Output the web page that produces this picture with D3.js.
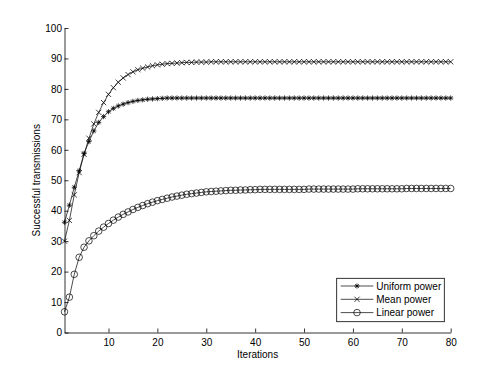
<!DOCTYPE html>
<html>
<head>
<meta charset="utf-8">
<script src="https://cdnjs.cloudflare.com/ajax/libs/d3/7.8.5/d3.min.js"></script>
<style>
  body { margin: 0; background: #fff; }
  svg text { font-family: "Liberation Sans", Arial, Helvetica, sans-serif; fill: #000; }
</style>
</head>
<body>
<div id="chart"></div>
<script>
// iterations 1..80
const iterations = d3.range(1, 81);

const uniformPower = [36.2, 41.8, 47.7, 53.1, 58.8, 62.7, 66.2, 69.0, 70.9, 72.5,
    73.6, 74.4, 75.0, 75.5, 75.9, 76.2, 76.4, 76.6, 76.7, 76.8,
    76.9, 77.0, 77.0, 77.0, 77.0, 77.0, 77.0, 77.0, 77.0, 77.0,
    77.0, 77.0, 77.0, 77.0, 77.0, 77.0, 77.0, 77.0, 77.0, 77.0,
    77.0, 77.0, 77.0, 77.0, 77.0, 77.0, 77.0, 77.0, 77.0, 77.0,
    77.0, 77.0, 77.0, 77.0, 77.0, 77.0, 77.0, 77.0, 77.0, 77.0,
    77.0, 77.0, 77.0, 77.0, 77.0, 77.0, 77.0, 77.0, 77.0, 77.0,
    77.0, 77.0, 77.0, 77.0, 77.0, 77.0, 77.0, 77.0, 77.0, 77.0];

const meanPower = [30.0, 36.8, 45.2, 52.5, 58.5, 63.8, 68.5, 72.3, 75.5, 78.2,
    80.4, 82.2, 83.6, 84.7, 85.6, 86.3, 86.8, 87.2, 87.6, 87.9,
    88.1, 88.3, 88.4, 88.5, 88.6, 88.7, 88.7, 88.8, 88.8, 88.8,
    88.9, 88.9, 88.9, 88.9, 88.9, 88.9, 88.9, 88.9, 88.9, 88.9,
    88.9, 88.9, 88.9, 88.9, 88.9, 88.9, 88.9, 88.9, 88.9, 88.9,
    88.9, 88.9, 88.9, 88.9, 88.9, 88.9, 88.9, 88.9, 88.9, 88.9,
    88.9, 88.9, 88.9, 88.9, 88.9, 88.9, 88.9, 88.9, 88.9, 88.9,
    88.9, 88.9, 88.9, 88.9, 88.9, 88.9, 88.9, 88.9, 88.9, 88.9];

const linearPower = [6.8, 11.6, 19.1, 24.7, 28.0, 30.1, 31.8, 33.3, 34.6, 35.8,
    36.9, 37.9, 38.8, 39.6, 40.4, 41.1, 41.7, 42.3, 42.8, 43.3,
    43.7, 44.1, 44.5, 44.8, 45.1, 45.4, 45.6, 45.8, 46.0, 46.2,
    46.3, 46.4, 46.5, 46.6, 46.7, 46.7, 46.8, 46.8, 46.9, 46.9,
    47.0, 47.0, 47.0, 47.0, 47.0, 47.0, 47.0, 47.0, 47.0, 47.0,
    47.1, 47.1, 47.1, 47.1, 47.1, 47.1, 47.1, 47.1, 47.1, 47.1,
    47.2, 47.2, 47.2, 47.2, 47.2, 47.2, 47.2, 47.2, 47.2, 47.2,
    47.3, 47.3, 47.3, 47.3, 47.3, 47.3, 47.3, 47.3, 47.3, 47.3];

const xTicks = [10, 20, 30, 40, 50, 60, 70, 80];
const yTicks = [0, 10, 20, 30, 40, 50, 60, 70, 80, 90, 100];

const seriesNames = ["Uniform power", "Mean power", "Linear power"];
const seriesValues = [uniformPower, meanPower, linearPower];
const seriesMarkers = ["star", "cross", "circle"];

// ----- layout -----
const width = 498, height = 374;
const margin = { top: 28, right: 47.3, bottom: 41.5, left: 64.5 };
const innerW = width - margin.left - margin.right;
const innerH = height - margin.top - margin.bottom;

const svg = d3.select("#chart").append("svg")
    .attr("width", width)
    .attr("height", height);

const g = svg.append("g")
    .attr("transform", `translate(${margin.left},${margin.top})`);

const x = d3.scaleLinear().domain([1, 80]).range([0, innerW]);
const y = d3.scaleLinear().domain([0, 100]).range([innerH, 0]);

// markers drawn as paths, MATLAB style
function markerPath(type, s) {
    if (type === "cross") {
        return `M${-s},${-s}L${s},${s}M${-s},${s}L${s},${-s}`;
    }
    if (type === "star") {
        const d = s * 0.72;
        return `M${-s},0L${s},0M0,${-s}L0,${s}M${-d},${-d}L${d},${d}M${-d},${d}L${d},${-d}`;
    }
    return null;
}

function drawMarker(sel, type) {
    if (type === "circle") {
        sel.append("circle").attr("r", 3.3)
            .attr("fill", "none").attr("stroke", "#000").attr("stroke-width", 0.7);
    } else {
        sel.append("path").attr("d", markerPath(type, 2.6))
            .attr("fill", "none").attr("stroke", "#000").attr("stroke-width", 0.75);
    }
}

const line = d3.line()
    .x((d, i) => x(iterations[i]))
    .y(d => y(d));

seriesValues.forEach((vals, k) => {
    g.append("path")
        .datum(vals)
        .attr("d", line)
        .attr("fill", "none")
        .attr("stroke", "#000")
        .attr("stroke-width", 0.7);

    g.selectAll(".m" + k)
        .data(vals)
        .enter().append("g")
        .attr("class", "m" + k)
        .attr("transform", (d, i) => `translate(${x(iterations[i])},${y(d)})`)
        .each(function() { drawMarker(d3.select(this), seriesMarkers[k]); });
});

// ----- axes -----
const xAxis = g.append("g")
    .attr("transform", `translate(0,${innerH})`)
    .call(d3.axisBottom(x).tickValues(xTicks).tickSizeInner(-4).tickSizeOuter(0).tickPadding(6));

const yAxis = g.append("g")
    .call(d3.axisLeft(y).tickValues(yTicks).tickSizeInner(-4).tickSizeOuter(0).tickPadding(2.5));

[xAxis, yAxis].forEach(a => {
    a.select(".domain").attr("stroke", "#000").attr("stroke-width", 0.8);
    a.selectAll(".tick line").attr("stroke", "#000").attr("stroke-width", 0.8);
    a.selectAll(".tick text").attr("font-size", 10).style("font-family", "'Liberation Sans', Arial, sans-serif");
});

// axis titles
svg.append("text")
    .attr("x", margin.left + innerW / 2)
    .attr("y", 357.5)
    .attr("text-anchor", "middle")
    .attr("font-size", 10)
    .text("Iterations");

svg.append("text")
    .attr("transform", `translate(39.5,${margin.top + innerH / 2}) rotate(-90)`)
    .attr("text-anchor", "middle")
    .attr("font-size", 10)
    .text("Successful transmissions");

// ----- legend -----
const legend = svg.append("g").attr("transform", "translate(336.7,278.3)");

legend.append("rect")
    .attr("width", 107.6)
    .attr("height", 43.4)
    .attr("fill", "#fff")
    .attr("stroke", "#000")
    .attr("stroke-width", 0.8);

const rows = legend.selectAll(".legend-row")
    .data(seriesNames)
    .enter().append("g")
    .attr("class", "legend-row")
    .attr("transform", (d, i) => `translate(0,${7.7 + i * 13.3})`);

rows.append("line")
    .attr("x1", 4).attr("x2", 36.6)
    .attr("stroke", "#000").attr("stroke-width", 0.7);

rows.append("g")
    .attr("transform", "translate(20.3,0)")
    .each(function(d, i) { drawMarker(d3.select(this), seriesMarkers[i]); });

rows.append("text")
    .attr("x", 39.5)
    .attr("dy", "0.35em")
    .attr("font-size", 10)
    .text(d => d);
</script>
</body>
</html>
